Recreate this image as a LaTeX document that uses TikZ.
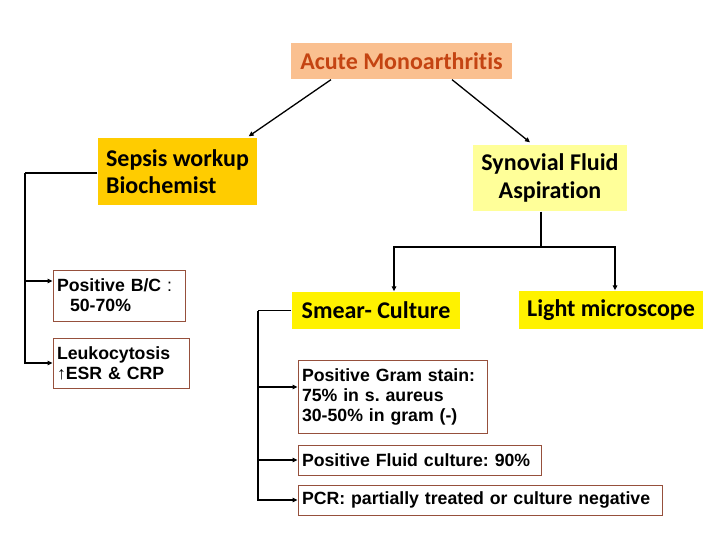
\documentclass[tikz,border=0pt]{standalone}
\usepackage{fontspec}
\setmainfont{Liberation Sans}
\newfontfamily\calfont[Ligatures=NoCommon]{Carlito}
\usetikzlibrary{arrows.meta}
\definecolor{peach}{RGB}{250, 192, 144}
\definecolor{rust}{RGB}{196, 68, 18}
\definecolor{gold}{RGB}{255, 204, 0}
\definecolor{paleyel}{RGB}{255, 255, 153}
\definecolor{brownbox}{RGB}{150, 80, 60}

\begin{document}
\frenchspacing
\begin{tikzpicture}[x=1pt, y=-1pt, line width=1.3pt,
  head/.style={font=\calfont\bfseries\fontsize{24}{28}\selectfont, inner sep=0pt},
  info/.style={draw=brownbox, line width=0.9pt, fill=white, inner sep=0pt,
    align=left, font=\bfseries\fontsize{17.7}{20}\selectfont},
  arr/.style={-{Triangle[length=5pt, width=4.5pt]}}]

\useasboundingbox (0, 0) rectangle (720, 540);

% top level
\node[head, fill=peach, text=rust, minimum width=221, minimum height=36]
  (acute) at (401.5, 61) {Acute Monoarthritis};
\node[head, fill=gold, minimum width=159, minimum height=67, align=left,
  font=\calfont\bfseries\fontsize{24}{27}\selectfont]
  (sepsis) at (177.5, 171.5) {Sepsis workup\\Biochemist};
\node[head, fill=paleyel, minimum width=154, minimum height=66, align=center]
  (synov) at (550, 178) {Synovial Fluid\\Aspiration};

% second level
\node[head, fill=yellow, minimum width=168, minimum height=37] (smear) at (376, 310.5) {Smear- Culture};
\node[head, fill=yellow, minimum width=184, minimum height=38] (micro) at (611, 310) {Light microscope};

% results
\node[info, minimum width=132, minimum height=51, text width=124] (bc) at (119, 295.5)
  {Positive B/C {\mdseries:}\\\hspace*{13pt}50-70\%};
\node[info, minimum width=136, minimum height=50, text width=128] (leuko) at (121, 363)
  {Leukocytosis\\↑ESR \& CRP};
\node[info, minimum width=189, minimum height=73, text width=181] (gram) at (392.5, 396.5)
  {Positive Gram stain:\\75\% in s. aureus\\30-50\% in gram (-)};
\node[info, minimum width=243, minimum height=30, text width=235] (fluid) at (419.5, 460)
  {Positive Fluid culture: 90\%};
\node[info, minimum width=364, minimum height=30, text width=356] (pcr) at (480, 500)
  {PCR: partially treated or culture negative};

% connectors
\draw[arr] ([xshift=-70.5pt]acute.south) -- ([xshift=-9pt, yshift=1pt]sepsis.north east);
\draw[arr] ([xshift=50.5pt]acute.south) -- ([xshift=-20pt, yshift=2pt]synov.north);

\coordinate (sepL) at (25, 173);
\draw (sepsis.west |- sepL) -- (sepL);
\draw[arr] (sepL) |- (leuko.west);
\draw[arr] (sepL |- 0, 281) -- (bc.west |- 0, 281);

\coordinate (synB) at (541, 247);
\draw (synov.south -| synB) -- (synB);
\draw[arr] (synB) -| ([xshift=18pt]smear.north);
\draw[arr] (synB) -| ([xshift=4pt]micro.north);

\coordinate (smL) at (258, 310.5);
\draw (smear.west) -- (smL);
\draw[arr] (smL) |- (pcr.west);
\draw[arr] (smL |- fluid.west) -- (fluid.west);
\draw[arr] (smL |- 0, 387) -- (gram.west |- 0, 387);

\end{tikzpicture}
\end{document}
